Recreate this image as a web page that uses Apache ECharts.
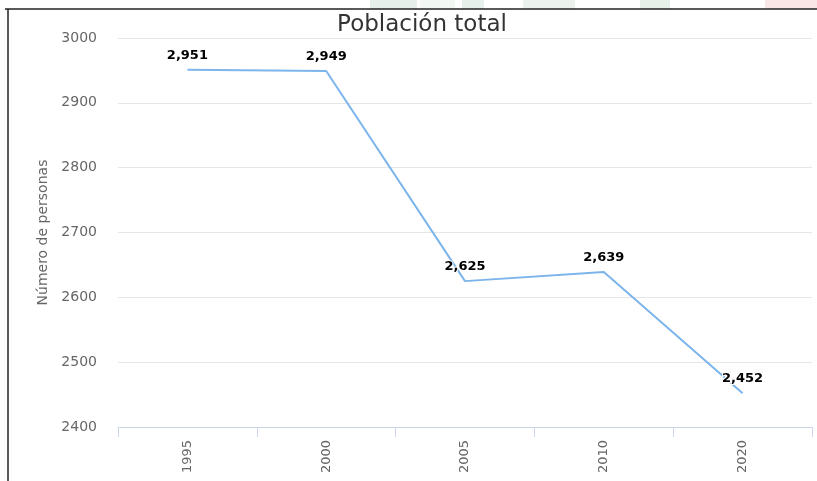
<!DOCTYPE html>
<html>
<head>
<meta charset="utf-8">
<script src="https://cdn.jsdelivr.net/npm/echarts@6/dist/echarts.min.js"></script>
<style>
  html, body { margin: 0; padding: 0; background: #fff; }
  #chart { width: 817px; height: 481px; }
</style>
</head>
<body>
<div id="chart"></div>
<script>
// datos
const years = ['1995', '2000', '2005', '2010', '2020']
const poblacion = [2951, 2949, 2625, 2639, 2452]
const yTicks = [2400, 2500, 2600, 2700, 2800, 2900, 3000]

const chart = echarts.init(document.getElementById('chart'))

// franja de fondo arriba (restos del banner, muy tenue)
const banner = [
  { x: 370, w: 47, c: '#e6efe9' },
  { x: 420, w: 35, c: '#f3f7f4' },
  { x: 462, w: 22, c: '#e6efe9' },
  { x: 523, w: 37, c: '#ebf2ed' },
  { x: 557, w: 18, c: '#ebf2ed' },
  { x: 640, w: 30, c: '#e8f0ea' },
  { x: 765, w: 52, c: '#f9e6e6' }
]

const option = {
  animation: false,
  title: {
    text: 'Población total',
    left: 417,
    top: 9,
    textAlign: 'center',
    textStyle: { fontFamily: 'DejaVu Sans', fontSize: 23, fontWeight: 'normal', color: '#333' }
  },
  grid: { left: 118, right: 5, top: 38, bottom: 54 },
  xAxis: {
    type: 'category',
    data: years,
    axisLine: { lineStyle: { color: '#ccd6eb', width: 1 } },
    axisTick: { show: true, length: 10, lineStyle: { color: '#ccd6eb' } },
    axisLabel: { rotate: 90, margin: 13, color: '#666', fontFamily: 'DejaVu Sans', fontSize: 13 }
  },
  yAxis: {
    type: 'value',
    min: yTicks[0],
    max: yTicks[yTicks.length - 1],
    interval: 100,
    name: 'Número de personas',
    nameLocation: 'middle',
    nameGap: 68,
    nameTextStyle: { color: '#666', fontFamily: 'DejaVu Sans', fontSize: 14 },
    axisLine: { show: false },
    axisTick: { show: false },
    axisLabel: { margin: 21, color: '#666', fontFamily: 'DejaVu Sans', fontSize: 14, formatter: v => String(v) },
    splitLine: { lineStyle: { color: '#e6e6e6' } }
  },
  series: [{
    type: 'line',
    data: poblacion,
    symbol: 'circle',
    symbolSize: 0,
    lineStyle: { color: '#7cb5ec', width: 2 },
    itemStyle: { color: '#7cb5ec' },
    label: {
      show: true,
      position: 'top',
      distance: 8,
      color: '#000',
      fontFamily: 'DejaVu Sans',
      fontWeight: 'bold',
      fontSize: 13,
      textBorderColor: '#fff',
      textBorderWidth: 2,
      formatter: p => p.value.toLocaleString('en-US')
    }
  }],
  graphic: [
    ...banner.map(b => ({
      type: 'rect', silent: true, z: -1,
      shape: { x: b.x, y: 0, width: b.w, height: 9 },
      style: { fill: b.c }
    })),
    // marco oscuro arriba e izquierda
    { type: 'line', shape: { x1: 5, y1: 9, x2: 817, y2: 9 }, style: { stroke: '#222', lineWidth: 1.5 } },
    { type: 'line', shape: { x1: 8, y1: 9, x2: 8, y2: 481 }, style: { stroke: '#222', lineWidth: 1.5 } }
  ]
}

chart.setOption(option)
window.addEventListener('resize', () => chart.resize())
</script>
</body>
</html>
